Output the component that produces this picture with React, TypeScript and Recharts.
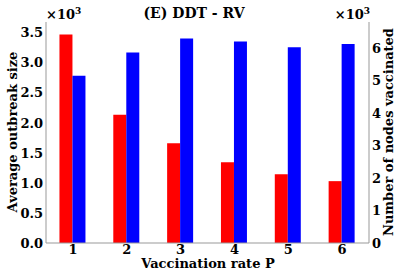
import { Bar, BarChart, XAxis, YAxis } from "recharts";

const rates = ["1", "2", "3", "4", "5", "6"];
const outbreakSize = [3470, 2135, 1660, 1345, 1145, 1030];
const nodesVaccinated = [5150, 5860, 6290, 6200, 6020, 6120];
const leftTicks = [0, 500, 1000, 1500, 2000, 2500, 3000, 3500];
const rightTicks = [0, 1000, 2000, 3000, 4000, 5000, 6000];

const data = rates.map((p, i) => ({
  p,
  outbreak: outbreakSize[i],
  vaccinated: nodesVaccinated[i],
}));

const font = "'DejaVu Serif', serif";
const tickStyle = { fill: "#000", fontSize: 13, fontWeight: 700, fontFamily: font };
const frame = { stroke: "#999", strokeWidth: 1 };

export default function App() {
  return (
    <div style={{ position: "fixed", left: 0, top: 0, width: 411, height: 273, background: "#fff" }}>
      <BarChart
        width={411}
        height={273}
        data={data}
        margin={{ top: 22, right: 0, bottom: 0, left: 0 }}
        barCategoryGap="25%"
        barGap={0}
      >
        <XAxis
          dataKey="p"
          height={30}
          tickLine={false}
          tickSize={0}
          tickMargin={2}
          axisLine={frame}
          tick={tickStyle}
        />
        <XAxis xAxisId="top" dataKey="p" orientation="top" height={0} tick={false} tickLine={false} axisLine={frame} />
        <YAxis
          yAxisId="left"
          width={46}
          domain={[0, 3680]}
          ticks={leftTicks}
          interval={0}
          tickLine={false}
          tickSize={0}
          tickMargin={3}
          axisLine={frame}
          tick={tickStyle}
          tickFormatter={(v: number) => (v / 1000).toFixed(1)}
        />
        <YAxis
          yAxisId="right"
          orientation="right"
          width={42}
          domain={[0, 6800]}
          ticks={rightTicks}
          interval={0}
          tickLine={false}
          tickSize={0}
          tickMargin={3}
          axisLine={frame}
          tick={tickStyle}
          tickFormatter={(v: number) => String(v / 1000)}
        />
        <Bar yAxisId="left" dataKey="outbreak" fill="#ff0000" isAnimationActive={false} />
        <Bar yAxisId="right" dataKey="vaccinated" fill="#0000ff" isAnimationActive={false} />
      </BarChart>
      <svg
        width={411}
        height={273}
        style={{ position: "absolute", left: 0, top: 0, pointerEvents: "none" }}
        fontFamily={font}
        fontWeight={700}
      >
        <text x={194} y={18} textAnchor="middle" fontSize={14}>
          (E) DDT - RV
        </text>
        <text x={46} y={19} fontSize={13}>
          ×10<tspan dy={-5} fontSize={9}>3</tspan>
        </text>
        <text x={370} y={19} fontSize={13} textAnchor="end">
          ×10<tspan dy={-5} fontSize={9}>3</tspan>
        </text>
        <text x={208} y={268} textAnchor="middle" fontSize={13}>
          Vaccination rate P
        </text>
        <text x={17} y={132} textAnchor="middle" fontSize={13} transform="rotate(-90 17 132)">
          Average outbreak size
        </text>
        <text x={393} y={132} textAnchor="middle" fontSize={13} transform="rotate(-90 393 132)">
          Number of nodes vaccinated
        </text>
      </svg>
    </div>
  );
}
